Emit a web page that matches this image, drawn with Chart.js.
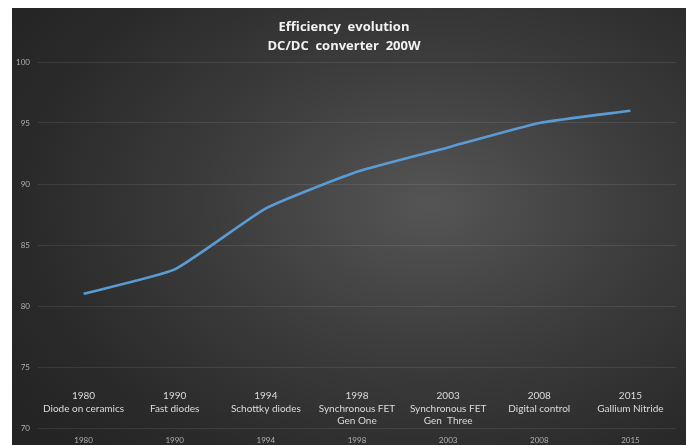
<!DOCTYPE html>
<html>
<head>
<meta charset="utf-8">
<script src="https://cdn.jsdelivr.net/npm/chart.js@4/dist/chart.umd.min.js"></script>
<style>
  html, body { margin: 0; padding: 0; background: #ffffff; }
  #wrap {
    position: absolute; left: 12px; top: 8px; width: 674px; height: 437px;
    background: radial-gradient(ellipse 75% 80% at 62% 45%, #555555 0%, #3b3b3b 45%, #2a2a2a 80%, #242424 100%);
  }
  canvas { display: block; }
</style>
</head>
<body>
<div id="wrap"><canvas id="chart" width="674" height="437"></canvas></div>
<script>
// Years on the category axis and the efficiency (%) reached in each
const years = ['1980', '1990', '1994', '1998', '2003', '2008', '2015'];
const efficiency = [81, 83, 88, 91, 93, 95, 96];
// Technology milestone printed above each year
const milestones = [
  ['1980', 'Diode on ceramics'],
  ['1990', 'Fast diodes'],
  ['1994', 'Schottky diodes'],
  ['1998', 'Synchronous FET', 'Gen One'],
  ['2003', 'Synchronous FET', 'Gen  Three'],
  ['2008', 'Digital control'],
  ['2015', 'Gallium Nitride']
];
const titleLines = ['Efficiency  evolution', 'DC/DC  converter  200W'];

const FONT = "Lato, 'Open Sans', 'Liberation Sans', sans-serif";

// Writes the milestone captions inside the plot, above each category
const milestoneLabels = {
  id: 'milestoneLabels',
  afterDatasetsDraw(chart) {
    const { ctx, chartArea, scales } = chart;
    ctx.save();
    ctx.fillStyle = '#dcdcdc';
    ctx.font = '10px ' + FONT;
    ctx.textAlign = 'center';
    ctx.textBaseline = 'middle';
    milestones.forEach((lines, i) => {
      const x = scales.x.getPixelForValue(i);
      lines.forEach((t, j) => {
        ctx.fillText(t, x, chartArea.bottom - 32 + j * 12.5);
      });
    });
    ctx.restore();
  }
};

new Chart(document.getElementById('chart'), {
  type: 'line',
  data: {
    labels: years,
    datasets: [{
      data: efficiency,
      borderColor: '#5b9bd5',
      borderWidth: 2.6,
      pointRadius: 0,
      tension: 0.15,
      fill: false
    }]
  },
  options: {
    responsive: false,
    animation: false,
    layout: { padding: { left: 0, right: 10, top: 0, bottom: 0 } },
    plugins: {
      legend: { display: false },
      tooltip: { enabled: false },
      title: {
        display: true,
        text: titleLines,
        color: '#f2f2f2',
        font: { family: "'Open Sans', Lato, sans-serif", size: 13, weight: 'bold', lineHeight: 1.45 },
        padding: { top: 9.6, bottom: 6.7 }
      }
    },
    scales: {
      x: {
        offset: true,
        grid: { display: false },
        border: { display: false },
        ticks: {
          color: '#b0b0b0',
          font: { family: FONT, size: 8 },
          padding: 0,
          maxRotation: 0
        },
        afterFit(scale) { scale.height = 17; }
      },
      y: {
        min: 70,
        max: 100,
        ticks: {
          stepSize: 5,
          color: '#b0b0b0',
          font: { family: FONT, size: 8 },
          padding: 8
        },
        grid: { color: 'rgba(255,255,255,0.09)', drawTicks: false, lineWidth: 1 },
        border: { display: false },
        afterFit(scale) { scale.width = 26; }
      }
    }
  },
  plugins: [milestoneLabels]
});
</script>
</body>
</html>
